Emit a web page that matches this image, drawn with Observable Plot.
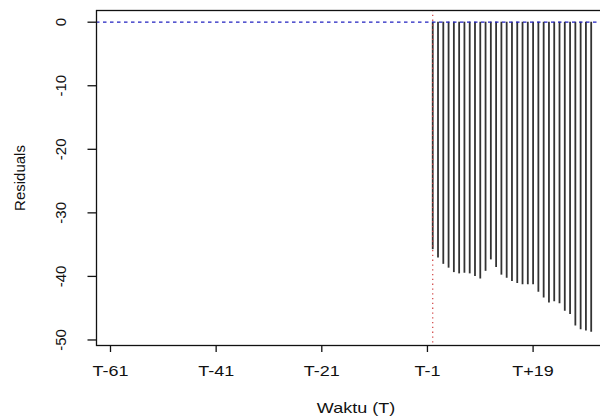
<!DOCTYPE html>
<html><head><meta charset="utf-8">
<script src="https://cdn.jsdelivr.net/npm/d3@7"></script>
<script src="https://cdn.jsdelivr.net/npm/@observablehq/plot@0.6"></script>
<style>
body{margin:0;background:#fff}
#wrap{width:600px;height:417px;overflow:hidden}
#wrap svg{max-width:none !important}
</style>
</head><body><div id="wrap"></div>
<script>
// Event-window days (T+0 ... T+30)
const days = [0,1,2,3,4,5,6,7,8,9,10,11,12,13,14,15,16,17,18,19,20,21,22,23,24,25,26,27,28,29,30];
// Residuals
const residuals = [-35.8,-37.1,-38.1,-38.7,-39.4,-39.6,-39.5,-39.6,-40.0,-40.4,-39.2,-37.4,-38.6,-39.8,-40.3,-40.8,-41.1,-41.3,-41.3,-41.3,-42.5,-43.4,-44.2,-44.0,-44.3,-45.5,-46.0,-47.8,-48.4,-48.6,-48.8];
const xTickValues = [-61,-41,-21,-1,19];
const xTickLabels = ["T-61","T-41","T-21","T-1","T+19"];
const yTickValues = [0,-10,-20,-30,-40,-50];
const eventDay = [0];
const baseline = [0];
const xLabel = ["Waktu (T)"];
const yLabel = ["Residuals"];

const data = days.map((t, i) => ({t, v: residuals[i]}));

const plot = Plot.plot({
  width: 620, height: 417,
  marginLeft: 96, marginRight: 5, marginTop: 10, marginBottom: 72,
  style: {fontFamily: "'Liberation Sans', Arial, sans-serif", fontSize: "15px", color: "#000", background: "#fff", maxWidth: "none"},
  x: {domain: [-63.65, 34.6], axis: null},
  y: {domain: [-50.87, 1.84], axis: null},
  marks: [
    Plot.ruleX(data, {x: "t", y1: 0, y2: "v", stroke: "#333", strokeWidth: 1.8}),
    Plot.ruleY(baseline, {y: d => d, stroke: "#2020c0", strokeWidth: 1.2, strokeDasharray: "3.5,3.5"}),
    Plot.ruleX(eventDay, {x: d => d, stroke: "#d04040", strokeWidth: 1.2, strokeDasharray: "1.3,3.5"}),
    Plot.frame({stroke: "#111", strokeWidth: 1.3}),
    Plot.axisX(xTickValues, {tickSize: 7, tickFormat: () => "", label: null, strokeWidth: 1.3, stroke: "#111"}),
    Plot.axisY(yTickValues, {tickSize: 8.5, tickFormat: () => "", label: null, strokeWidth: 1.3, stroke: "#111"}),
    Plot.text(xTickValues, {x: d => d, text: (d, i) => xTickLabels[i], frameAnchor: "bottom", dy: 26, lineAnchor: "middle", textAnchor: "middle", fontSize: 15, fill: "#111"}),
    Plot.text(yTickValues, {y: d => d, text: d => String(d), frameAnchor: "left", dx: -35, rotate: -90, lineAnchor: "middle", textAnchor: "middle", fontSize: 15, fill: "#111"}),
    Plot.text(xLabel, {text: d => d, frameAnchor: "bottom", dy: 63, lineAnchor: "middle", textAnchor: "middle", fontSize: 15, fill: "#111"}),
    Plot.text(yLabel, {text: d => d, frameAnchor: "left", dx: -76, rotate: -90, lineAnchor: "middle", textAnchor: "middle", fontSize: 15, fill: "#111"})
  ]
});

document.getElementById("wrap").appendChild(plot);

// The reference image is stretched horizontally (~1.2x); widen horizontal texts
d3.select(plot).selectAll("text").each(function() {
  if (!this.textContent) return;
  const tr = this.getAttribute("transform") || "";
  if (/rotate\(/.test(tr)) return;
  const len = this.getComputedTextLength();
  if (len > 0) {
    this.setAttribute("textLength", (len * 1.2).toFixed(1));
    this.setAttribute("lengthAdjust", "spacingAndGlyphs");
  }
});
</script>
</body></html>
